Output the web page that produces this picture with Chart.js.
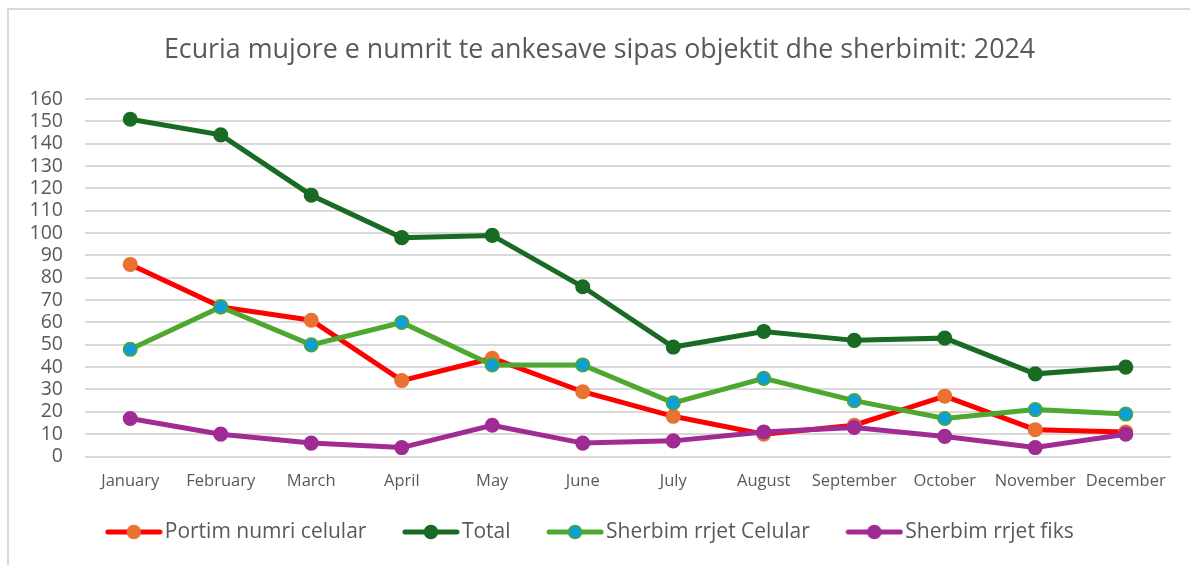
<!DOCTYPE html>
<html lang="sq">
<head>
<meta charset="UTF-8">
<title>Ecuria mujore e numrit te ankesave</title>
<script src="https://cdn.jsdelivr.net/npm/chart.js"></script>
<style>
    body {
        margin: 0;
        background: #fff;
        width: 1190px;
        height: 565px;
        overflow: hidden;
        position: relative;
        font-family: "Open Sans", sans-serif;
    }
    .frame {
        position: absolute;
        left: 7px;
        top: 8px;
        width: 1220px;
        height: 600px;
        border: 2px solid #d9d9d9;
        box-sizing: border-box;
    }
    .wrap {
        position: absolute;
        left: 0;
        top: 0;
        width: 1190px;
        height: 565px;
    }
</style>
</head>
<body>
<div class="frame"></div>
<div class="wrap"><canvas id="chart"></canvas></div>

<script>
    // months on the category axis
    const months = ['January', 'February', 'March', 'April', 'May', 'June',
        'July', 'August', 'September', 'October', 'November', 'December'];

    // values
    const portimNumri = [86, 67, 61, 34, 44, 29, 18, 10, 14, 27, 12, 11];
    const total = [151, 144, 117, 98, 99, 76, 49, 56, 52, 53, 37, 40];
    const rrjetCelular = [48, 67, 50, 60, 41, 41, 24, 35, 25, 17, 21, 19];
    const rrjetFiks = [17, 10, 6, 4, 14, 6, 7, 11, 13, 9, 4, 10];

    const grey = '#595959';

    // small line+marker icon for the legend, like the excel one
    function legendIcon(line, fill, border) {
        const c = document.createElement('canvas');
        c.width = 58; c.height = 18;
        const g = c.getContext('2d');
        g.strokeStyle = line;
        g.lineWidth = 5;
        g.lineCap = 'round';
        g.beginPath(); g.moveTo(3, 9); g.lineTo(55, 9); g.stroke();
        g.fillStyle = fill;
        g.strokeStyle = border;
        g.lineWidth = 1.5;
        g.beginPath(); g.arc(29, 9, 6.5, 0, Math.PI * 2); g.fill(); g.stroke();
        return c;
    }

    const series = [
        { label: 'Portim numri celular', data: portimNumri, line: '#ff0000', fill: '#e97132', border: '#e97132' },
        { label: 'Total', data: total, line: '#196b24', fill: '#196b24', border: '#196b24' },
        { label: 'Sherbim rrjet Celular', data: rrjetCelular, line: '#4ea72e', fill: '#0f9ed5', border: '#4ea72e' },
        { label: 'Sherbim rrjet fiks', data: rrjetFiks, line: '#a02b93', fill: '#a02b93', border: '#a02b93' }
    ];
    const icons = series.map(s => legendIcon(s.line, s.fill, s.border));

    // move the legend a bit up / left after layout
    const nudgeLegend = {
        id: 'nudgeLegend',
        afterLayout(chart) {
            const lg = chart.legend;
            lg.top -= 14; lg.bottom -= 14;
            lg.left -= 6; lg.right -= 6;
        }
    };

    const ctx = document.getElementById('chart').getContext('2d');
    new Chart(ctx, {
        type: 'line',
        data: {
            labels: months,
            datasets: series.map((s, i) => ({
                label: s.label,
                data: s.data,
                borderColor: s.line,
                borderWidth: 5,
                pointRadius: 6.8,
                pointBackgroundColor: s.fill,
                pointBorderColor: s.border,
                pointBorderWidth: 1.5,
                tension: 0,
                order: series.length - 1 - i   // later series on top
            }))
        },
        plugins: [nudgeLegend],
        options: {
            responsive: true,
            maintainAspectRatio: false,
            animation: false,
            layout: { padding: { left: 28, right: 19, top: 0, bottom: -1.5 } },
            scales: {
                x: {
                    offset: true,
                    grid: { display: false, drawTicks: false },
                    border: { display: false },
                    ticks: { color: grey, font: { family: 'Open Sans', size: 16.5 }, padding: 15, maxRotation: 0, autoSkip: false },
                    afterFit: scale => { scale.height = 35; }
                },
                y: {
                    min: 0, max: 160,
                    ticks: { stepSize: 10, color: grey, font: { family: 'Open Sans', size: 19.5 }, padding: 22, autoSkip: false },
                    grid: { color: '#d9d9d9', lineWidth: 2, drawTicks: false },
                    border: { display: false },
                    afterFit: scale => { scale.width = 57; }
                }
            },
            plugins: {
                tooltip: { enabled: false },
                title: {
                    display: true,
                    text: 'Ecuria mujore e numrit te ankesave sipas objektit dhe sherbimit: 2024',
                    color: grey,
                    font: { family: 'Open Sans', size: 26.8, weight: 'normal' },
                    padding: { top: 34, bottom: 33 }
                },
                legend: {
                    position: 'bottom',
                    labels: {
                        usePointStyle: true,
                        pointStyleWidth: 41,
                        padding: 44,
                        color: grey,
                        font: { family: 'Open Sans', size: 21 },
                        generateLabels: chart => chart.data.datasets.map((ds, i) => ({
                            text: ds.label,
                            pointStyle: icons[i],
                            fillStyle: ds.borderColor,
                            strokeStyle: ds.borderColor,
                            lineWidth: 0,
                            hidden: false,
                            datasetIndex: i,
                            fontColor: grey,
                            rotation: 0
                        }))
                    }
                }
            }
        }
    });
</script>
</body>
</html>
